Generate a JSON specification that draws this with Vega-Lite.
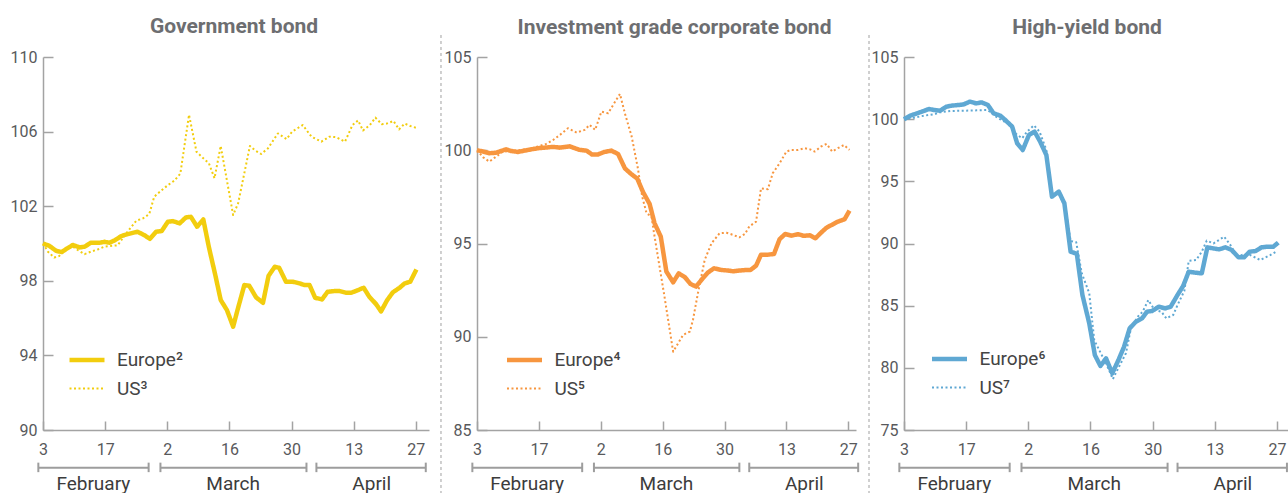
{
"$schema": "https://vega.github.io/schema/vega-lite/v6.json",
"padding": {"left": 10, "top": 16, "right": 0, "bottom": 0},
"config": {
  "view": {"stroke": null},
  "font": "Roboto, sans-serif",
  "axis": {"grid": false, "domainColor": "#a3a3a3", "domainWidth": 1.5, "tickColor": "#a3a3a3", "tickWidth": 1.5, "labelFont": "Roboto, sans-serif", "labelFontSize": 16, "labelColor": "#58595b", "labelOverlap": false, "labelFlush": false, "title": null},
  "title": {"font": "Roboto, sans-serif", "fontSize": 21, "fontWeight": "bold", "color": "#6d6e71", "anchor": "middle", "frame": "group"},
  "legend": {"title": null, "symbolType": "stroke", "symbolSize": 1225, "labelFont": "Roboto, sans-serif", "labelFontSize": 19, "labelColor": "#444444", "labelOffset": 10, "rowPadding": -1, "padding": 0}
},
"resolve": {"scale": {"color": "independent", "strokeDash": "independent", "strokeWidth": "independent"}, "legend": {"color": "independent", "strokeDash": "independent", "strokeWidth": "independent"}},
"datasets": {
  "months": [
    {"month": "February", "start": -0.75, "end": 17.0, "mid": 8.1},
    {"month": "March", "start": 18.9, "end": 42.4, "mid": 30.6},
    {"month": "April", "start": 44.0, "end": 61.6, "mid": 52.9}
  ],
  "gov": [
    {"series":"Europe","t":0,"v":100.0},{"series":"Europe","t":1.0,"v":99.88},{"series":"Europe","t":2.1,"v":99.61},{"series":"Europe","t":3.0,"v":99.54},{"series":"Europe","t":3.9,"v":99.74},{"series":"Europe","t":4.8,"v":99.92},{"series":"Europe","t":5.9,"v":99.79},{"series":"Europe","t":6.7,"v":99.83},{"series":"Europe","t":7.7,"v":100.04},{"series":"Europe","t":9.1,"v":100.04},{"series":"Europe","t":9.9,"v":100.09},{"series":"Europe","t":10.7,"v":100.04},{"series":"Europe","t":11.6,"v":100.18},{"series":"Europe","t":12.6,"v":100.4},{"series":"Europe","t":13.6,"v":100.5},{"series":"Europe","t":15.2,"v":100.63},{"series":"Europe","t":16.3,"v":100.45},{"series":"Europe","t":17.2,"v":100.25},{"series":"Europe","t":18.2,"v":100.63},{"series":"Europe","t":19.1,"v":100.67},{"series":"Europe","t":20.1,"v":101.17},{"series":"Europe","t":20.9,"v":101.2},{"series":"Europe","t":22.0,"v":101.08},{"series":"Europe","t":23.0,"v":101.4},{"series":"Europe","t":23.8,"v":101.43},{"series":"Europe","t":24.8,"v":100.9},{"series":"Europe","t":25.8,"v":101.29},{"series":"Europe","t":26.7,"v":99.8},{"series":"Europe","t":27.7,"v":98.35},{"series":"Europe","t":28.6,"v":96.97},{"series":"Europe","t":29.6,"v":96.43},{"series":"Europe","t":30.6,"v":95.54},{"series":"Europe","t":31.3,"v":96.43},{"series":"Europe","t":32.4,"v":97.77},{"series":"Europe","t":33.2,"v":97.73},{"series":"Europe","t":34.3,"v":97.11},{"series":"Europe","t":35.4,"v":96.82},{"series":"Europe","t":36.3,"v":98.27},{"series":"Europe","t":37.3,"v":98.75},{"series":"Europe","t":38.0,"v":98.7},{"series":"Europe","t":39.1,"v":97.95},{"series":"Europe","t":40.2,"v":97.95},{"series":"Europe","t":41.3,"v":97.86},{"series":"Europe","t":42.1,"v":97.77},{"series":"Europe","t":42.9,"v":97.77},{"series":"Europe","t":43.8,"v":97.09},{"series":"Europe","t":44.9,"v":97.0},{"series":"Europe","t":45.8,"v":97.41},{"series":"Europe","t":46.9,"v":97.45},{"series":"Europe","t":47.7,"v":97.45},{"series":"Europe","t":48.8,"v":97.36},{"series":"Europe","t":49.6,"v":97.36},{"series":"Europe","t":50.7,"v":97.5},{"series":"Europe","t":51.6,"v":97.63},{"series":"Europe","t":52.5,"v":97.15},{"series":"Europe","t":53.6,"v":96.75},{"series":"Europe","t":54.4,"v":96.36},{"series":"Europe","t":55.4,"v":96.97},{"series":"Europe","t":56.3,"v":97.38},{"series":"Europe","t":57.4,"v":97.63},{"series":"Europe","t":58.2,"v":97.86},{"series":"Europe","t":59.1,"v":97.95},{"series":"Europe","t":60.1,"v":98.61},
    {"series":"US","t":0,"v":100.0},{"series":"US","t":0.8,"v":99.56},{"series":"US","t":1.8,"v":99.25},{"series":"US","t":2.6,"v":99.33},{"series":"US","t":3.7,"v":99.68},{"series":"US","t":4.8,"v":99.83},{"series":"US","t":5.6,"v":99.65},{"series":"US","t":6.7,"v":99.43},{"series":"US","t":7.7,"v":99.56},{"series":"US","t":8.8,"v":99.68},{"series":"US","t":9.9,"v":99.83},{"series":"US","t":11.2,"v":99.88},{"series":"US","t":12.0,"v":99.9},{"series":"US","t":12.8,"v":100.27},{"series":"US","t":13.9,"v":100.76},{"series":"US","t":15.0,"v":101.22},{"series":"US","t":16.1,"v":101.35},{"series":"US","t":17.1,"v":101.58},{"series":"US","t":17.9,"v":102.51},{"series":"US","t":19.0,"v":102.83},{"series":"US","t":20.1,"v":103.13},{"series":"US","t":21.1,"v":103.36},{"series":"US","t":22.1,"v":103.74},{"series":"US","t":23.5,"v":106.9},{"series":"US","t":24.7,"v":104.92},{"series":"US","t":25.8,"v":104.57},{"series":"US","t":26.7,"v":104.3},{"series":"US","t":27.6,"v":103.5},{"series":"US","t":28.6,"v":105.23},{"series":"US","t":30.6,"v":101.53},{"series":"US","t":31.4,"v":102.15},{"series":"US","t":33.3,"v":105.23},{"series":"US","t":34.1,"v":105.0},{"series":"US","t":35.1,"v":104.8},{"series":"US","t":36.2,"v":105.1},{"series":"US","t":37.8,"v":105.9},{"series":"US","t":39.2,"v":105.6},{"series":"US","t":40.1,"v":106.0},{"series":"US","t":41.8,"v":106.35},{"series":"US","t":43.2,"v":105.73},{"series":"US","t":44.8,"v":105.46},{"series":"US","t":46.1,"v":105.73},{"series":"US","t":47.2,"v":105.7},{"series":"US","t":48.6,"v":105.46},{"series":"US","t":49.8,"v":106.35},{"series":"US","t":50.7,"v":106.6},{"series":"US","t":51.5,"v":106.06},{"series":"US","t":52.6,"v":106.35},{"series":"US","t":53.5,"v":106.75},{"series":"US","t":54.5,"v":106.4},{"series":"US","t":55.3,"v":106.43},{"series":"US","t":56.4,"v":106.57},{"series":"US","t":57.3,"v":106.12},{"series":"US","t":58.2,"v":106.43},{"series":"US","t":59.1,"v":106.3},{"series":"US","t":60.1,"v":106.2}
  ],
  "ig": [
    {"series":"Europe","t":0,"v":100.0},{"series":"Europe","t":1.0,"v":99.93},{"series":"Europe","t":2.0,"v":99.84},{"series":"Europe","t":3.1,"v":99.87},{"series":"Europe","t":4.7,"v":100.05},{"series":"Europe","t":5.5,"v":99.96},{"series":"Europe","t":6.6,"v":99.91},{"series":"Europe","t":7.7,"v":99.98},{"series":"Europe","t":8.8,"v":100.05},{"series":"Europe","t":9.9,"v":100.11},{"series":"Europe","t":10.9,"v":100.14},{"series":"Europe","t":12.3,"v":100.18},{"series":"Europe","t":13.4,"v":100.14},{"series":"Europe","t":15.0,"v":100.21},{"series":"Europe","t":15.8,"v":100.11},{"series":"Europe","t":16.6,"v":100.02},{"series":"Europe","t":17.7,"v":99.98},{"series":"Europe","t":18.6,"v":99.77},{"series":"Europe","t":19.5,"v":99.77},{"series":"Europe","t":20.6,"v":99.91},{"series":"Europe","t":21.7,"v":99.98},{"series":"Europe","t":22.8,"v":99.8},{"series":"Europe","t":23.9,"v":99.03},{"series":"Europe","t":24.9,"v":98.73},{"series":"Europe","t":25.9,"v":98.48},{"series":"Europe","t":26.8,"v":97.78},{"series":"Europe","t":27.9,"v":97.12},{"series":"Europe","t":28.7,"v":96.08},{"series":"Europe","t":29.7,"v":95.37},{"series":"Europe","t":30.6,"v":93.5},{"series":"Europe","t":31.7,"v":92.92},{"series":"Europe","t":32.6,"v":93.4},{"series":"Europe","t":33.6,"v":93.19},{"series":"Europe","t":34.5,"v":92.83},{"series":"Europe","t":35.4,"v":92.69},{"series":"Europe","t":36.5,"v":93.14},{"series":"Europe","t":37.3,"v":93.44},{"series":"Europe","t":38.3,"v":93.67},{"series":"Europe","t":39.5,"v":93.58},{"series":"Europe","t":40.6,"v":93.55},{"series":"Europe","t":41.4,"v":93.51},{"series":"Europe","t":42.4,"v":93.55},{"series":"Europe","t":43.5,"v":93.58},{"series":"Europe","t":44.2,"v":93.58},{"series":"Europe","t":45.1,"v":93.81},{"series":"Europe","t":45.9,"v":94.4},{"series":"Europe","t":47.0,"v":94.4},{"series":"Europe","t":48.0,"v":94.44},{"series":"Europe","t":48.9,"v":95.23},{"series":"Europe","t":49.8,"v":95.51},{"series":"Europe","t":50.8,"v":95.42},{"series":"Europe","t":51.9,"v":95.5},{"series":"Europe","t":52.8,"v":95.41},{"series":"Europe","t":53.8,"v":95.44},{"series":"Europe","t":54.7,"v":95.28},{"series":"Europe","t":55.5,"v":95.55},{"series":"Europe","t":56.5,"v":95.85},{"series":"Europe","t":57.4,"v":96.01},{"series":"Europe","t":58.3,"v":96.17},{"series":"Europe","t":59.4,"v":96.3},{"series":"Europe","t":60.2,"v":96.76},
    {"series":"US","t":0,"v":100.0},{"series":"US","t":1.0,"v":99.62},{"series":"US","t":2.0,"v":99.39},{"series":"US","t":3.1,"v":99.66},{"series":"US","t":4.2,"v":99.93},{"series":"US","t":5.5,"v":99.96},{"series":"US","t":7.2,"v":100.02},{"series":"US","t":8.8,"v":100.1},{"series":"US","t":10.1,"v":100.23},{"series":"US","t":11.2,"v":100.34},{"series":"US","t":12.3,"v":100.55},{"series":"US","t":13.4,"v":100.82},{"series":"US","t":14.7,"v":101.18},{"series":"US","t":16.1,"v":100.95},{"series":"US","t":17.4,"v":101.09},{"series":"US","t":18.2,"v":101.36},{"series":"US","t":19.1,"v":101.09},{"series":"US","t":20.1,"v":102.07},{"series":"US","t":21.2,"v":101.98},{"series":"US","t":22.0,"v":102.43},{"series":"US","t":23.1,"v":103.02},{"series":"US","t":23.9,"v":101.98},{"series":"US","t":25.0,"v":100.73},{"series":"US","t":26.0,"v":99.03},{"series":"US","t":26.7,"v":97.51},{"series":"US","t":27.4,"v":96.62},{"series":"US","t":28.2,"v":96.44},{"series":"US","t":28.7,"v":95.37},{"series":"US","t":29.5,"v":93.76},{"series":"US","t":30.3,"v":92.15},{"series":"US","t":31.7,"v":89.2},{"series":"US","t":32.5,"v":89.65},{"series":"US","t":33.3,"v":90.1},{"series":"US","t":34.4,"v":90.28},{"series":"US","t":34.9,"v":90.9},{"series":"US","t":35.7,"v":92.33},{"series":"US","t":36.8,"v":94.12},{"series":"US","t":37.9,"v":95.01},{"series":"US","t":39.2,"v":95.55},{"series":"US","t":40.3,"v":95.58},{"series":"US","t":41.4,"v":95.46},{"series":"US","t":42.4,"v":95.33},{"series":"US","t":43.3,"v":95.51},{"series":"US","t":44.0,"v":95.91},{"series":"US","t":45.1,"v":96.17},{"series":"US","t":45.9,"v":97.96},{"series":"US","t":47.0,"v":97.91},{"series":"US","t":47.8,"v":98.77},{"series":"US","t":48.9,"v":99.3},{"series":"US","t":50.0,"v":99.93},{"series":"US","t":50.8,"v":100.02},{"series":"US","t":51.9,"v":100.02},{"series":"US","t":53.0,"v":100.11},{"series":"US","t":53.8,"v":100.05},{"series":"US","t":54.6,"v":99.93},{"series":"US","t":55.6,"v":100.2},{"series":"US","t":56.5,"v":100.34},{"series":"US","t":57.4,"v":99.93},{"series":"US","t":58.3,"v":100.11},{"series":"US","t":59.3,"v":100.28},{"series":"US","t":60.2,"v":100.02}
  ],
  "hy": [
    {"series":"Europe","t":0,"v":100.0},{"series":"Europe","t":1.0,"v":100.28},{"series":"Europe","t":2.1,"v":100.47},{"series":"Europe","t":3.2,"v":100.66},{"series":"Europe","t":4.0,"v":100.82},{"series":"Europe","t":4.8,"v":100.74},{"series":"Europe","t":5.8,"v":100.68},{"series":"Europe","t":6.8,"v":101.0},{"series":"Europe","t":7.7,"v":101.09},{"series":"Europe","t":8.8,"v":101.14},{"series":"Europe","t":9.6,"v":101.19},{"series":"Europe","t":10.6,"v":101.41},{"series":"Europe","t":11.6,"v":101.27},{"series":"Europe","t":12.5,"v":101.35},{"series":"Europe","t":13.5,"v":101.14},{"series":"Europe","t":14.4,"v":100.47},{"series":"Europe","t":15.5,"v":100.28},{"series":"Europe","t":16.3,"v":99.93},{"series":"Europe","t":17.4,"v":99.4},{"series":"Europe","t":18.2,"v":98.06},{"series":"Europe","t":19.1,"v":97.52},{"series":"Europe","t":20.1,"v":98.73},{"series":"Europe","t":21.0,"v":99.0},{"series":"Europe","t":21.9,"v":98.19},{"series":"Europe","t":22.9,"v":97.12},{"series":"Europe","t":23.8,"v":93.77},{"series":"Europe","t":24.9,"v":94.17},{"series":"Europe","t":25.8,"v":93.23},{"series":"Europe","t":26.8,"v":89.34},{"series":"Europe","t":27.8,"v":89.18},{"series":"Europe","t":28.7,"v":85.86},{"series":"Europe","t":29.8,"v":83.58},{"series":"Europe","t":30.7,"v":81.03},{"series":"Europe","t":31.6,"v":80.15},{"series":"Europe","t":32.5,"v":80.76},{"series":"Europe","t":33.5,"v":79.56},{"series":"Europe","t":34.5,"v":80.63},{"series":"Europe","t":35.4,"v":81.7},{"series":"Europe","t":36.3,"v":83.18},{"series":"Europe","t":37.3,"v":83.71},{"series":"Europe","t":38.3,"v":83.98},{"series":"Europe","t":39.1,"v":84.52},{"series":"Europe","t":39.9,"v":84.57},{"series":"Europe","t":41.0,"v":84.92},{"series":"Europe","t":42.0,"v":84.78},{"series":"Europe","t":42.9,"v":84.92},{"series":"Europe","t":44.0,"v":85.86},{"series":"Europe","t":44.9,"v":86.58},{"series":"Europe","t":45.8,"v":87.73},{"series":"Europe","t":46.9,"v":87.65},{"series":"Europe","t":47.9,"v":87.6},{"series":"Europe","t":48.8,"v":89.69},{"series":"Europe","t":49.7,"v":89.61},{"series":"Europe","t":50.7,"v":89.53},{"series":"Europe","t":51.7,"v":89.69},{"series":"Europe","t":52.7,"v":89.48},{"series":"Europe","t":53.8,"v":88.89},{"series":"Europe","t":54.7,"v":88.89},{"series":"Europe","t":55.6,"v":89.34},{"series":"Europe","t":56.6,"v":89.4},{"series":"Europe","t":57.5,"v":89.69},{"series":"Europe","t":58.4,"v":89.74},{"series":"Europe","t":59.4,"v":89.74},{"series":"Europe","t":60.2,"v":90.07},
    {"series":"US","t":0,"v":100.0},{"series":"US","t":1.6,"v":100.12},{"series":"US","t":3.2,"v":100.28},{"series":"US","t":4.8,"v":100.39},{"series":"US","t":5.8,"v":100.55},{"series":"US","t":7.5,"v":100.66},{"series":"US","t":9.6,"v":100.68},{"series":"US","t":11.7,"v":100.71},{"series":"US","t":13.4,"v":100.74},{"series":"US","t":14.2,"v":100.47},{"series":"US","t":15.0,"v":100.12},{"series":"US","t":16.0,"v":99.85},{"series":"US","t":17.1,"v":99.53},{"series":"US","t":17.9,"v":98.86},{"series":"US","t":19.0,"v":98.46},{"series":"US","t":19.8,"v":99.0},{"series":"US","t":20.9,"v":99.5},{"series":"US","t":21.8,"v":99.0},{"series":"US","t":22.9,"v":97.52},{"series":"US","t":23.8,"v":93.9},{"series":"US","t":24.9,"v":94.1},{"series":"US","t":25.8,"v":93.3},{"series":"US","t":26.8,"v":90.2},{"series":"US","t":27.7,"v":90.1},{"series":"US","t":28.6,"v":87.6},{"series":"US","t":29.8,"v":86.0},{"series":"US","t":30.6,"v":82.24},{"series":"US","t":31.4,"v":81.43},{"series":"US","t":32.5,"v":80.36},{"series":"US","t":33.6,"v":79.1},{"series":"US","t":34.6,"v":80.1},{"series":"US","t":35.7,"v":81.17},{"series":"US","t":36.5,"v":83.18},{"series":"US","t":37.6,"v":84.11},{"series":"US","t":38.4,"v":84.52},{"series":"US","t":39.3,"v":85.45},{"series":"US","t":40.3,"v":84.65},{"series":"US","t":41.4,"v":84.52},{"series":"US","t":42.2,"v":83.98},{"series":"US","t":43.3,"v":84.25},{"series":"US","t":44.0,"v":85.05},{"series":"US","t":45.1,"v":86.2},{"series":"US","t":45.8,"v":88.6},{"series":"US","t":47.0,"v":88.67},{"series":"US","t":47.9,"v":89.34},{"series":"US","t":48.7,"v":90.23},{"series":"US","t":49.8,"v":90.01},{"series":"US","t":51.5,"v":90.55},{"series":"US","t":52.5,"v":89.88},{"series":"US","t":53.6,"v":88.94},{"series":"US","t":54.6,"v":89.13},{"series":"US","t":55.7,"v":89.07},{"series":"US","t":57.3,"v":88.67},{"series":"US","t":58.9,"v":89.07},{"series":"US","t":60.0,"v":89.39}
  ]
},
"hconcat": [
  {
    "width": 386, "height": 373,
    "title": {"text": "Government bond", "dx": -2, "offset": 12},
    "layer": [
      {"data": {"name": "gov"}, "mark": {"type": "line", "strokeJoin": "round"},
       "encoding": {
         "x": {"field": "t", "type": "quantitative", "scale": {"domain": [0, 62.12], "nice": false, "zero": false},
               "axis": {"title": null, "values": [0,5,10,15,20,25,30,35,40,45,50,55,60], "labelExpr": "datum.value == 0 ? '3' : datum.value == 10 ? '17' : datum.value == 20 ? '2' : datum.value == 30 ? '16' : datum.value == 40 ? '30' : datum.value == 50 ? '13' : datum.value == 60 ? '27' : ''", "tickSize": -9, "labelPadding": 20}},
         "y": {"field": "v", "type": "quantitative", "scale": {"domain": [90, 110], "nice": false, "zero": false},
               "axis": {"title": null, "values": [90,94,98,102,106,110], "tickSize": -10, "labelPadding": 16}},
         "color": {"field": "series", "type": "nominal", "scale": {"domain": ["Europe","US"], "range": ["#f2cd0e","#f2cd0e"]},
                   "legend": {"orient": "none", "legendX": 24, "legendY": 283, "labelExpr": "datum.label == 'Europe' ? 'Europe²' : 'US³'"}},
         "strokeDash": {"field": "series", "type": "nominal", "scale": {"domain": ["Europe","US"], "range": [[1,0],[2,2.5]]}},
         "strokeWidth": {"field": "series", "type": "nominal", "scale": {"domain": ["Europe","US"], "range": [4.5,2]}}
       }},
      {"data": {"name": "months"}, "mark": {"type": "rule", "color": "#9d9d9d", "strokeWidth": 2},
       "encoding": {"x": {"field": "start", "type": "quantitative", "scale": {"domain": [0, 62.12], "nice": false, "zero": false}}, "x2": {"field": "end"},
                    "y": {"datum": 87.98, "type": "quantitative", "scale": {"domain": [90, 110], "nice": false, "zero": false}}}},
      {"data": {"name": "months"}, "mark": {"type": "rule", "color": "#9d9d9d", "strokeWidth": 2},
       "encoding": {"x": {"field": "start", "type": "quantitative", "scale": {"domain": [0, 62.12], "nice": false, "zero": false}},
                    "y": {"datum": 88.25, "type": "quantitative", "scale": {"domain": [90, 110], "nice": false, "zero": false}}, "y2": {"datum": 87.74}}},
      {"data": {"name": "months"}, "mark": {"type": "rule", "color": "#9d9d9d", "strokeWidth": 2},
       "encoding": {"x": {"field": "end", "type": "quantitative", "scale": {"domain": [0, 62.12], "nice": false, "zero": false}},
                    "y": {"datum": 88.25, "type": "quantitative", "scale": {"domain": [90, 110], "nice": false, "zero": false}}, "y2": {"datum": 87.74}}},
      {"data": {"name": "months"}, "mark": {"type": "text", "fontSize": 19, "color": "#3c3c3c", "baseline": "middle"},
       "encoding": {"x": {"field": "mid", "type": "quantitative", "scale": {"domain": [0, 62.12], "nice": false, "zero": false}},
                    "y": {"datum": 87.1, "type": "quantitative", "scale": {"domain": [90, 110], "nice": false, "zero": false}},
                    "text": {"field": "month"}}}
    ]
  },
  {
    "width": 379, "height": 373,
    "title": {"text": "Investment grade corporate bond", "dx": 8, "offset": -4},
    "layer": [
      {"data": {"name": "ig"}, "mark": {"type": "line", "strokeJoin": "round"},
       "encoding": {
         "x": {"field": "t", "type": "quantitative", "scale": {"domain": [0, 61.25], "nice": false, "zero": false},
               "axis": {"title": null, "values": [0,5,10,15,20,25,30,35,40,45,50,55,60], "labelExpr": "datum.value == 0 ? '3' : datum.value == 10 ? '17' : datum.value == 20 ? '2' : datum.value == 30 ? '16' : datum.value == 40 ? '30' : datum.value == 50 ? '13' : datum.value == 60 ? '27' : ''", "tickSize": -9, "labelPadding": 20}},
         "y": {"field": "v", "type": "quantitative", "scale": {"domain": [85, 105], "nice": false, "zero": false},
               "axis": {"title": null, "values": [85,90,95,100,105], "tickSize": -10, "labelPadding": 16}},
         "color": {"field": "series", "type": "nominal", "scale": {"domain": ["Europe","US"], "range": ["#f7963f","#f7963f"]},
                   "legend": {"orient": "none", "legendX": 27.5, "legendY": 283, "labelExpr": "datum.label == 'Europe' ? 'Europe⁴' : 'US⁵'"}},
         "strokeDash": {"field": "series", "type": "nominal", "scale": {"domain": ["Europe","US"], "range": [[1,0],[2,2.5]]}},
         "strokeWidth": {"field": "series", "type": "nominal", "scale": {"domain": ["Europe","US"], "range": [4.5,2]}}
       }},
      {"data": {"values": [{"label": "separator"}]}, "mark": {"type": "rule", "color": "#a0a0a0", "strokeWidth": 1, "strokeDash": [3,3]},
       "encoding": {"x": {"datum": -5.82, "type": "quantitative", "scale": {"domain": [0, 61.25], "nice": false, "zero": false}},
                    "y": {"datum": 106.18, "type": "quantitative", "scale": {"domain": [85, 105], "nice": false, "zero": false}}, "y2": {"datum": 81.25}}},
      {"data": {"name": "months"}, "mark": {"type": "rule", "color": "#9d9d9d", "strokeWidth": 2},
       "encoding": {"x": {"field": "start", "type": "quantitative", "scale": {"domain": [0, 61.25], "nice": false, "zero": false}}, "x2": {"field": "end"},
                    "y": {"datum": 82.98, "type": "quantitative", "scale": {"domain": [85, 105], "nice": false, "zero": false}}}},
      {"data": {"name": "months"}, "mark": {"type": "rule", "color": "#9d9d9d", "strokeWidth": 2},
       "encoding": {"x": {"field": "start", "type": "quantitative", "scale": {"domain": [0, 61.25], "nice": false, "zero": false}},
                    "y": {"datum": 83.25, "type": "quantitative", "scale": {"domain": [85, 105], "nice": false, "zero": false}}, "y2": {"datum": 82.74}}},
      {"data": {"name": "months"}, "mark": {"type": "rule", "color": "#9d9d9d", "strokeWidth": 2},
       "encoding": {"x": {"field": "end", "type": "quantitative", "scale": {"domain": [0, 61.25], "nice": false, "zero": false}},
                    "y": {"datum": 83.25, "type": "quantitative", "scale": {"domain": [85, 105], "nice": false, "zero": false}}, "y2": {"datum": 82.74}}},
      {"data": {"name": "months"}, "mark": {"type": "text", "fontSize": 19, "color": "#3c3c3c", "baseline": "middle"},
       "encoding": {"x": {"field": "mid", "type": "quantitative", "scale": {"domain": [0, 61.25], "nice": false, "zero": false}},
                    "y": {"datum": 82.1, "type": "quantitative", "scale": {"domain": [85, 105], "nice": false, "zero": false}},
                    "text": {"field": "month"}}}
    ]
  },
  {
    "width": 384, "height": 373,
    "title": {"text": "High-yield bond", "dx": -9, "offset": -4},
    "layer": [
      {"data": {"name": "hy"}, "mark": {"type": "line", "strokeJoin": "round"},
       "encoding": {
         "x": {"field": "t", "type": "quantitative", "scale": {"domain": [0, 61.77], "nice": false, "zero": false},
               "axis": {"title": null, "values": [0,5,10,15,20,25,30,35,40,45,50,55,60], "labelExpr": "datum.value == 0 ? '3' : datum.value == 10 ? '17' : datum.value == 20 ? '2' : datum.value == 30 ? '16' : datum.value == 40 ? '30' : datum.value == 50 ? '13' : datum.value == 60 ? '27' : ''", "tickSize": -9, "labelPadding": 20}},
         "y": {"field": "v", "type": "quantitative", "scale": {"domain": [75, 105], "nice": false, "zero": false},
               "axis": {"title": null, "values": [75,80,85,90,95,100,105], "tickSize": -10, "labelPadding": 16}},
         "color": {"field": "series", "type": "nominal", "scale": {"domain": ["Europe","US"], "range": ["#5fa8d3","#5fa8d3"]},
                   "legend": {"orient": "none", "legendX": 25.5, "legendY": 282, "labelExpr": "datum.label == 'Europe' ? 'Europe⁶' : 'US⁷'"}},
         "strokeDash": {"field": "series", "type": "nominal", "scale": {"domain": ["Europe","US"], "range": [[1,0],[2,2.5]]}},
         "strokeWidth": {"field": "series", "type": "nominal", "scale": {"domain": ["Europe","US"], "range": [4.5,2]}}
       }},
      {"data": {"values": [{"label": "separator"}]}, "mark": {"type": "rule", "color": "#a0a0a0", "strokeWidth": 1, "strokeDash": [3,3]},
       "encoding": {"x": {"datum": -5.63, "type": "quantitative", "scale": {"domain": [0, 61.77], "nice": false, "zero": false}},
                    "y": {"datum": 106.77, "type": "quantitative", "scale": {"domain": [75, 105], "nice": false, "zero": false}}, "y2": {"datum": 69.37}}},
      {"data": {"name": "months"}, "mark": {"type": "rule", "color": "#9d9d9d", "strokeWidth": 2},
       "encoding": {"x": {"field": "start", "type": "quantitative", "scale": {"domain": [0, 61.77], "nice": false, "zero": false}}, "x2": {"field": "end"},
                    "y": {"datum": 71.97, "type": "quantitative", "scale": {"domain": [75, 105], "nice": false, "zero": false}}}},
      {"data": {"name": "months"}, "mark": {"type": "rule", "color": "#9d9d9d", "strokeWidth": 2},
       "encoding": {"x": {"field": "start", "type": "quantitative", "scale": {"domain": [0, 61.77], "nice": false, "zero": false}},
                    "y": {"datum": 72.37, "type": "quantitative", "scale": {"domain": [75, 105], "nice": false, "zero": false}}, "y2": {"datum": 71.61}}},
      {"data": {"name": "months"}, "mark": {"type": "rule", "color": "#9d9d9d", "strokeWidth": 2},
       "encoding": {"x": {"field": "end", "type": "quantitative", "scale": {"domain": [0, 61.77], "nice": false, "zero": false}},
                    "y": {"datum": 72.37, "type": "quantitative", "scale": {"domain": [75, 105], "nice": false, "zero": false}}, "y2": {"datum": 71.61}}},
      {"data": {"name": "months"}, "mark": {"type": "text", "fontSize": 19, "color": "#3c3c3c", "baseline": "middle"},
       "encoding": {"x": {"field": "mid", "type": "quantitative", "scale": {"domain": [0, 61.77], "nice": false, "zero": false}},
                    "y": {"datum": 70.65, "type": "quantitative", "scale": {"domain": [75, 105], "nice": false, "zero": false}},
                    "text": {"field": "month"}}}
    ]
  }
],
"bounds": "flush",
"spacing": 48
}
